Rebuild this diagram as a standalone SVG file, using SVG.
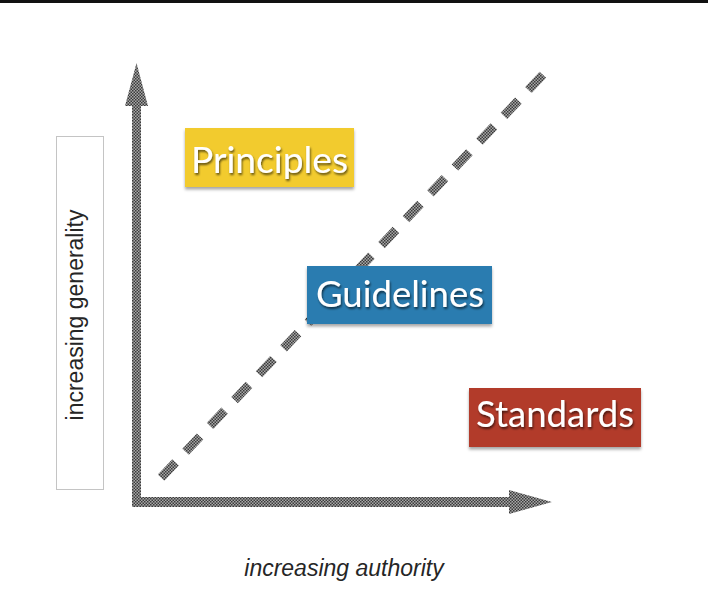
<svg xmlns="http://www.w3.org/2000/svg" width="708" height="596" viewBox="0 0 708 596">
<style>
.lbl{font-family:"Lato","Open Sans",sans-serif;font-size:37px;fill:#ffffff;text-anchor:middle}
.axis{font-family:"Liberation Sans","Arial",sans-serif;font-size:23px;fill:#262626;text-anchor:middle}
</style>
<defs>
<pattern id="chk" width="3" height="3" patternUnits="userSpaceOnUse">
<rect width="3" height="3" fill="#a8a8a8"/>
<rect width="1.5" height="1.5" fill="#3a3a3a"/>
<rect x="1.5" y="1.5" width="1.5" height="1.5" fill="#3a3a3a"/>
</pattern>
<filter id="boxsh" x="-10%" y="-20%" width="120%" height="150%">
<feDropShadow dx="0" dy="2.5" stdDeviation="1.5" flood-color="#000" flood-opacity="0.35"/>
</filter>
<filter id="txtsh" x="-10%" y="-20%" width="120%" height="150%">
<feDropShadow dx="1" dy="2" stdDeviation="1.2" flood-color="#000" flood-opacity="0.6"/>
</filter>
</defs>
<rect x="0" y="0" width="708" height="596" fill="#ffffff"/>
<rect x="0" y="0" width="708" height="3" fill="#111111"/>

<g id="connectors">
<line x1="161.1" y1="477.6" x2="542.9" y2="74.7" stroke="url(#chk)" stroke-width="9" stroke-dasharray="21 14.6"/>
<polygon points="132,507 509,507 509,514 552,502 509,490 509,497 141,497 141,106 148,106 136.5,63 125,106 132,106" fill="url(#chk)"/>
</g>

<g id="generality">
<rect x="56.5" y="136.5" width="47" height="353" fill="#ffffff" stroke="#c4c4c4" stroke-width="1"/>
<text class="axis" transform="translate(83,315) rotate(-90)">increasing generality</text>
</g>

<g id="authority">
<text class="axis" x="344" y="576" font-style="italic">increasing authority</text>
</g>

<g id="principles">
<rect x="185" y="128" width="169" height="59" fill="#F2CB2E" filter="url(#boxsh)"/>
<text class="lbl" x="269.5" y="173" textLength="157" lengthAdjust="spacingAndGlyphs" filter="url(#txtsh)">Principles</text>
</g>

<g id="guidelines">
<rect x="307" y="266" width="185" height="58" fill="#2C7BB0" filter="url(#boxsh)"/>
<text class="lbl" x="400" y="307" textLength="168" lengthAdjust="spacingAndGlyphs" filter="url(#txtsh)">Guidelines</text>
</g>

<g id="standards">
<rect x="469" y="388" width="172" height="59" fill="#B23B2A" filter="url(#boxsh)"/>
<text class="lbl" x="555" y="427" textLength="158" lengthAdjust="spacingAndGlyphs" filter="url(#txtsh)">Standards</text>
</g>
</svg>
